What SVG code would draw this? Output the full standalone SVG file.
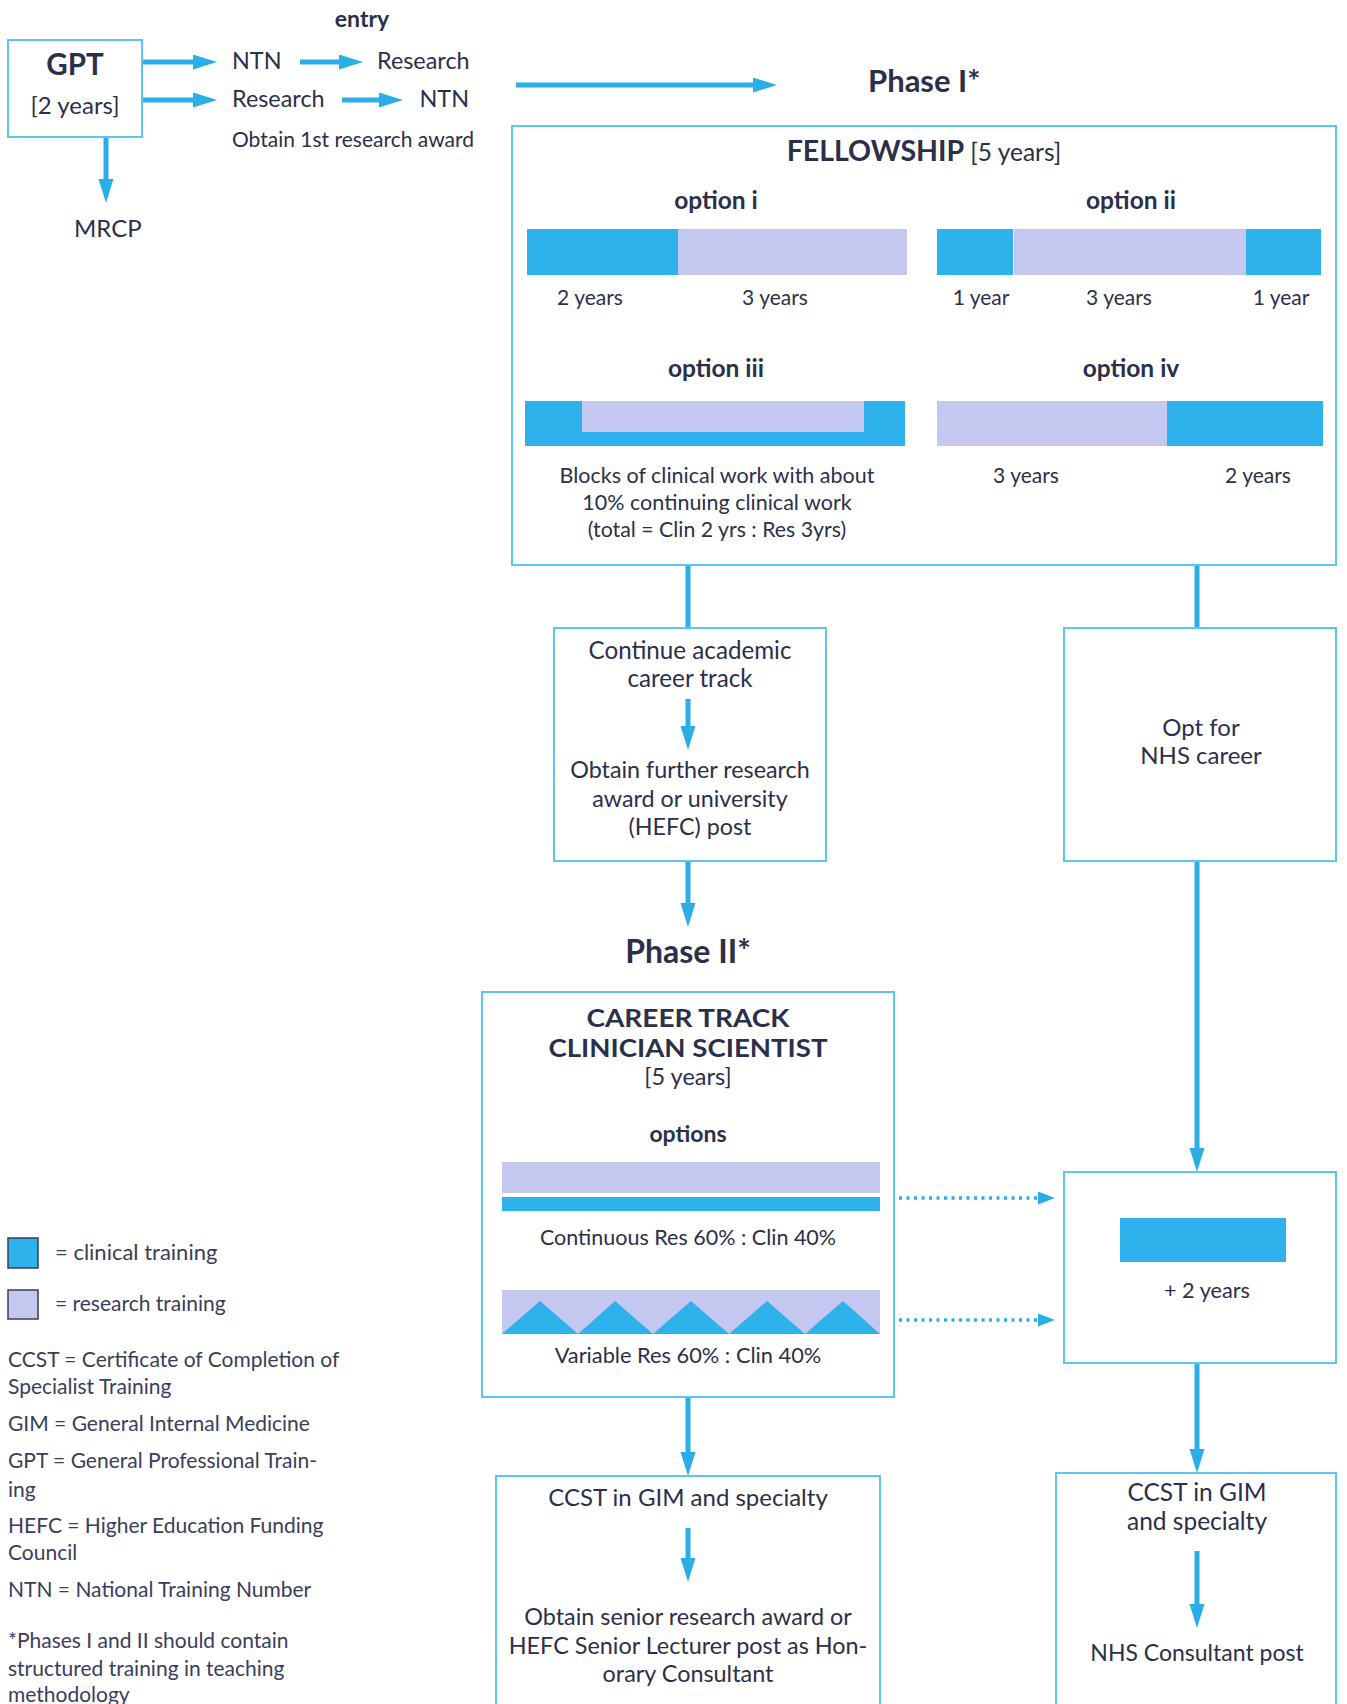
<svg xmlns="http://www.w3.org/2000/svg" width="1347" height="1704" viewBox="0 0 1347 1704" font-size="23.5">
<defs>
<style>
.t{font-family:Lato,"Open Sans","Liberation Sans",sans-serif;fill:#2c2f4a}
.m{text-anchor:middle}
.b{font-weight:bold}
.box{fill:none;stroke:#5cc6ef;stroke-width:2}
.ar{stroke:#2aaee8;stroke-width:5;fill:none}
.ln{stroke:#2aaee8;stroke-width:5;fill:none}
.dot{stroke:#2aaee8;stroke-width:3.5;stroke-dasharray:3 4.5;fill:none}
.clin{fill:#2db2ec}
.res{fill:#c4c7ef}
.lg{font-family:Lato,"Open Sans","Liberation Sans",sans-serif;fill:#3a3d5c}
</style>
<marker id="ah" markerUnits="userSpaceOnUse" markerWidth="26" markerHeight="16" refX="4" refY="7.5" orient="auto">
<path d="M0,0 L24,7.5 L0,15 z" fill="#2aaee8"/>
</marker>
<marker id="ahs" markerUnits="userSpaceOnUse" markerWidth="18" markerHeight="14" refX="2" refY="6.5" orient="auto">
<path d="M0,0 L17,6.5 L0,13 z" fill="#2aaee8"/>
</marker>
</defs>
<rect width="1347" height="1704" fill="#ffffff"/>

<g id="connectors">
<line class="ar" x1="143" y1="62" x2="197" y2="62" marker-end="url(#ah)"/>
<line class="ar" x1="300" y1="62" x2="343" y2="62" marker-end="url(#ah)"/>
<line class="ar" x1="143" y1="100" x2="197" y2="100" marker-end="url(#ah)"/>
<line class="ar" x1="342" y1="100" x2="383" y2="100" marker-end="url(#ah)"/>
<line class="ar" x1="106" y1="137" x2="106" y2="183" marker-end="url(#ah)"/>
<line class="ar" x1="516" y1="85" x2="757" y2="85" marker-end="url(#ah)"/>
<line class="ln" x1="688" y1="565" x2="688" y2="628"/>
<line class="ln" x1="1197" y1="565" x2="1197" y2="628"/>
<line class="ar" x1="688" y1="699" x2="688" y2="730" marker-end="url(#ah)"/>
<line class="ar" x1="688" y1="861" x2="688" y2="907" marker-end="url(#ah)"/>
<line class="ar" x1="1197" y1="861" x2="1197" y2="1152" marker-end="url(#ah)"/>
<line class="dot" x1="899" y1="1198" x2="1040" y2="1198" marker-end="url(#ahs)"/>
<line class="dot" x1="899" y1="1320" x2="1040" y2="1320" marker-end="url(#ahs)"/>
<line class="ar" x1="688" y1="1397" x2="688" y2="1456" marker-end="url(#ah)"/>
<line class="ar" x1="1197" y1="1363" x2="1197" y2="1453" marker-end="url(#ah)"/>
<line class="ar" x1="688" y1="1528" x2="688" y2="1562" marker-end="url(#ah)"/>
<line class="ar" x1="1197" y1="1551" x2="1197" y2="1608" marker-end="url(#ah)"/>
</g>

<g id="entry-labels">
<text class="t b m" x="362" y="27" font-size="23">entry</text>
<text class="t" x="232" y="69" font-size="23.4">NTN</text>
<text class="t" x="377" y="69" font-size="23.4">Research</text>
<text class="t" x="232" y="107" font-size="23.4">Research</text>
<text class="t" x="469" y="107" text-anchor="end" font-size="23.4">NTN</text>
<text class="t" x="232" y="147" font-size="21">Obtain 1st research award</text>
</g>

<g id="gpt">
<rect class="box" x="8" y="40" width="134" height="97"/>
<text class="t b m" x="75" y="75" font-size="29.5">GPT</text>
<text class="t m" x="75" y="114" font-size="24">[2 years]</text>
</g>

<g id="mrcp">
<text class="t" x="74" y="237" font-size="24">MRCP</text>
</g>

<g id="phase1">
<text class="t b" x="868" y="92" font-size="31">Phase I*</text>
</g>

<g id="fellowship">
<rect class="box" x="512" y="126" width="824" height="439"/>
<text class="t m" x="924" y="161"><tspan class="b" font-size="28.5">FELLOWSHIP</tspan><tspan font-size="24.5"> [5 years]</tspan></text>
<text class="t b m" x="716" y="209" font-size="24.5">option i</text>
<text class="t b m" x="1131" y="209" font-size="24.5">option ii</text>
<rect class="clin" x="527" y="229" width="151" height="46"/>
<rect class="res" x="678" y="229" width="229" height="46"/>
<text class="t m" x="590" y="305" font-size="21">2 years</text>
<text class="t m" x="775" y="305" font-size="21">3 years</text>
<rect class="clin" x="937" y="229" width="76" height="46"/>
<rect class="res" x="1014" y="229" width="232" height="46"/>
<rect class="clin" x="1246" y="229" width="75" height="46"/>
<text class="t m" x="981" y="305" font-size="21">1 year</text>
<text class="t m" x="1119" y="305" font-size="21">3 years</text>
<text class="t m" x="1281" y="305" font-size="21">1 year</text>
<text class="t b m" x="716" y="377" font-size="24.5">option iii</text>
<text class="t b m" x="1131" y="377" font-size="24.5">option iv</text>
<rect class="clin" x="525" y="401" width="380" height="45"/>
<rect class="res" x="582" y="401" width="282" height="31"/>
<rect class="res" x="937" y="401" width="230" height="45"/>
<rect class="clin" x="1167" y="401" width="156" height="45"/>
<text class="t m" x="717" y="483" font-size="21.5">Blocks of clinical work with about</text>
<text class="t m" x="717" y="510" font-size="21.5">10% continuing clinical work</text>
<text class="t m" x="717" y="537" font-size="21.3">(total = Clin 2 yrs : Res 3yrs)</text>
<text class="t m" x="1026" y="483" font-size="21">3 years</text>
<text class="t m" x="1258" y="483" font-size="21">2 years</text>
</g>

<g id="continue-academic">
<rect class="box" x="554" y="628" width="272" height="233"/>
<text class="t m" x="690" y="659" font-size="24.2">Continue academic</text>
<text class="t m" x="690" y="687" font-size="24.2">career track</text>
<text class="t m" x="690" y="778" font-size="23.3">Obtain further research</text>
<text class="t m" x="690" y="807" font-size="23.3">award or university</text>
<text class="t m" x="690" y="835" font-size="23.3">(HEFC) post</text>
</g>

<g id="nhs-career">
<rect class="box" x="1064" y="628" width="272" height="233"/>
<text class="t m" x="1201" y="736" font-size="24">Opt for</text>
<text class="t m" x="1201" y="764" font-size="24">NHS career</text>
</g>

<g id="phase2">
<text class="t b m" x="688" y="963" font-size="32">Phase II*</text>
</g>

<g id="career-track">
<rect class="box" x="482" y="992" width="412" height="405"/>
<text class="t b m" x="688" y="1027" font-size="25.5" textLength="203" lengthAdjust="spacingAndGlyphs">CAREER TRACK</text>
<text class="t b m" x="688" y="1057" font-size="25.5" textLength="279" lengthAdjust="spacingAndGlyphs">CLINICIAN SCIENTIST</text>
<text class="t m" x="688" y="1085" font-size="23.5">[5 years]</text>
<text class="t b m" x="688" y="1142" font-size="23">options</text>
<rect class="res" x="502" y="1162" width="378" height="31"/>
<rect class="clin" x="502" y="1197" width="378" height="14"/>
<text class="t m" x="688" y="1245" font-size="21.5">Continuous Res 60% : Clin 40%</text>
<rect class="res" x="502" y="1290" width="378" height="44"/>
<path class="clin" d="M502,1334 L540,1301 L578,1334 Z M578,1334 L615,1301 L653,1334 Z M653,1334 L691,1301 L729,1334 Z M729,1334 L767,1301 L805,1334 Z M805,1334 L843,1301 L880,1334 Z"/>
<text class="t m" x="688" y="1363" font-size="21.8">Variable Res 60% : Clin 40%</text>
</g>

<g id="plus-two-years">
<rect class="box" x="1064" y="1172" width="272" height="191"/>
<rect class="clin" x="1120" y="1218" width="166" height="44"/>
<text class="t m" x="1207" y="1298" font-size="21.7">+ 2 years</text>
</g>

<g id="ccst-academic">
<rect class="box" x="496" y="1476" width="384" height="240"/>
<text class="t m" x="688" y="1506" font-size="24">CCST in GIM and specialty</text>
<text class="t m" x="688" y="1625" font-size="23.4">Obtain senior research award or</text>
<text class="t m" x="688" y="1654" font-size="23.4">HEFC Senior Lecturer post as Hon-</text>
<text class="t m" x="688" y="1682" font-size="23.4">orary Consultant</text>
</g>

<g id="ccst-nhs">
<rect class="box" x="1056" y="1473" width="280" height="240"/>
<text class="t m" x="1197" y="1501" font-size="24.5">CCST in GIM</text>
<text class="t m" x="1197" y="1530" font-size="24.5">and specialty</text>
<text class="t m" x="1197" y="1661" font-size="23">NHS Consultant post</text>
</g>

<g id="legend" font-size="21">
<rect class="clin" x="8" y="1238" width="30" height="30" stroke="#3a3d5c" stroke-width="1.5"/>
<text class="lg" x="55" y="1260" font-size="22">= clinical training</text>
<rect class="res" x="8" y="1290" width="30" height="29" stroke="#3a3d5c" stroke-width="1.5"/>
<text class="lg" x="55" y="1311">= research training</text>
<text class="lg" x="8" y="1367">CCST = Certificate of Completion of</text>
<text class="lg" x="8" y="1394">Specialist Training</text>
<text class="lg" x="8" y="1431">GIM = General Internal Medicine</text>
<text class="lg" x="8" y="1468">GPT = General Professional Train-</text>
<text class="lg" x="8" y="1497">ing</text>
<text class="lg" x="8" y="1533">HEFC = Higher Education Funding</text>
<text class="lg" x="8" y="1560">Council</text>
<text class="lg" x="8" y="1597">NTN = National Training Number</text>
<text class="lg" x="8" y="1648">*Phases I and II should contain</text>
<text class="lg" x="8" y="1676">structured training in teaching</text>
<text class="lg" x="8" y="1702">methodology</text>
</g>
</svg>
